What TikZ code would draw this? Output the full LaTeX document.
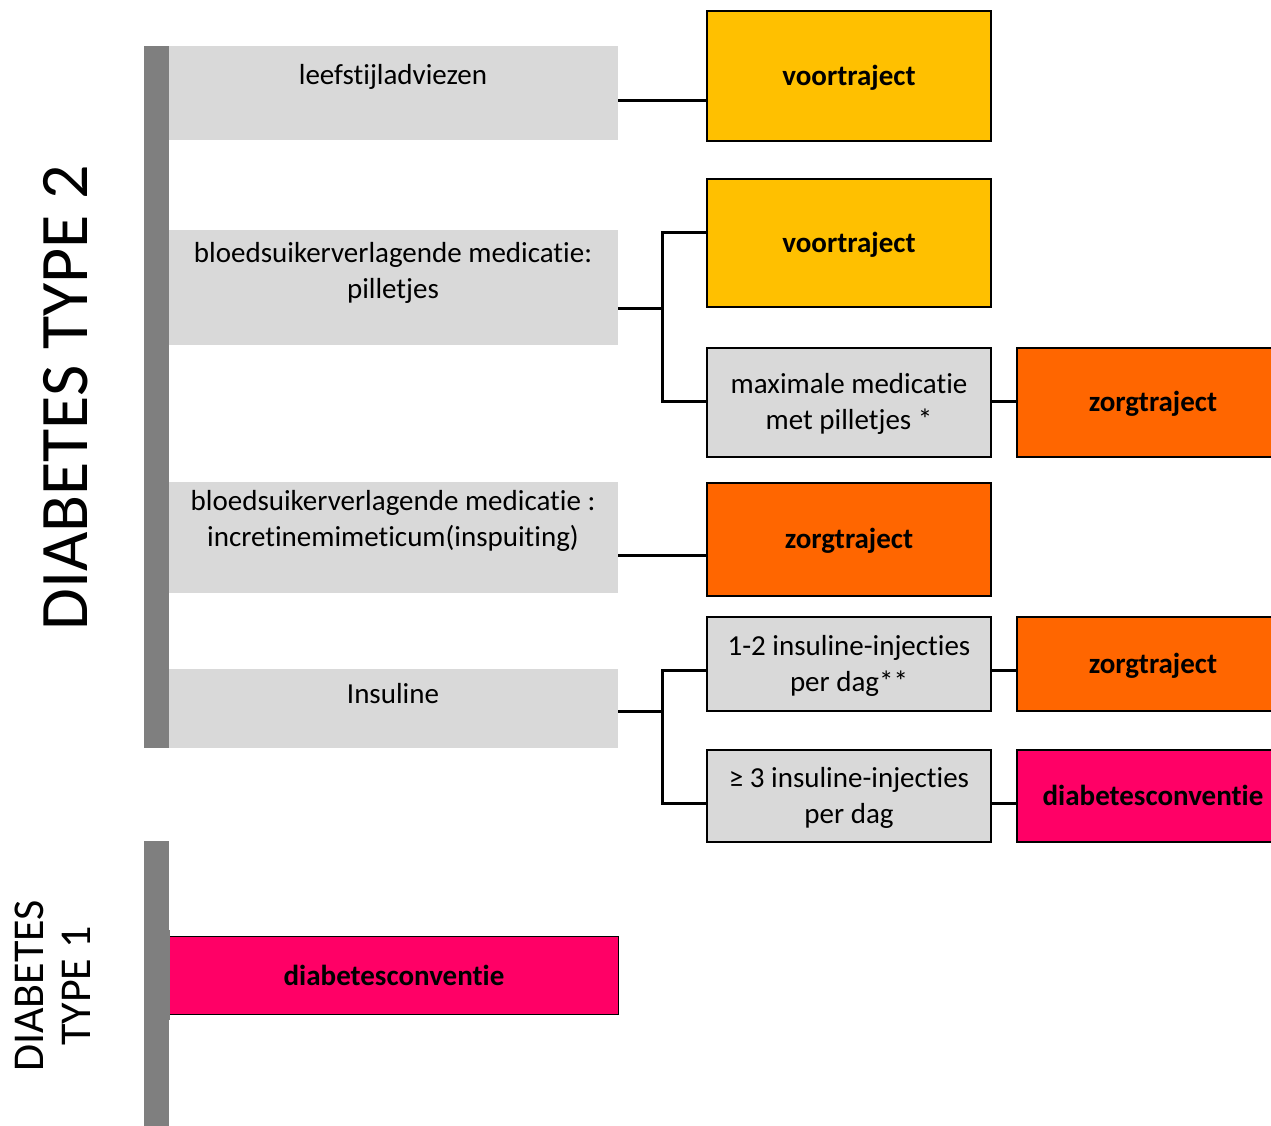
\documentclass[tikz,border=0pt]{standalone}
\usepackage{fontspec}
\setmainfont{Carlito}[Ligatures=NoCommon]
\definecolor{boxgrey}{HTML}{D9D9D9}
\definecolor{bargrey}{HTML}{7F7F7F}
\definecolor{yel}{HTML}{FFC000}
\definecolor{ora}{HTML}{FF6600}
\definecolor{pnk}{HTML}{FF0066}
\tikzset{
  base/.style={inner sep=0pt, anchor=north west, align=center, font=\fontsize{29}{36}\selectfont},
  greybox/.style={base, fill=boxgrey},
  outbox/.style={base, draw=black, line width=2pt, text depth=2pt},
  choice/.style={outbox, fill=boxgrey},
  result/.style={outbox, font=\fontsize{29}{36}\selectfont\bfseries},
  gtxt/.style={inner sep=0pt, align=center, font=\fontsize{29}{36}\selectfont},
  bar/.style={fill=bargrey, inner sep=0pt, anchor=north west},
  conn/.style={draw=black, line width=3pt},
  sidetitle/.style={inner sep=0pt, rotate=90, align=center}
}
\begin{document}
\begin{tikzpicture}[x=1pt,y=-1pt]
\useasboundingbox (0,0) rectangle (1271,1126);
\clip (0,0) rectangle (1271,1126);
\fill[white] (0,0) rectangle (1271,1126);

% grey bars
\node[bar, minimum width=25pt, minimum height=702pt] (bar2) at (144,46) {};
\node[bar, minimum width=25pt, minimum height=290pt] (bar1) at (144,841) {};

% left grey boxes
\node[greybox, minimum width=449pt, minimum height=94pt] (lsa) at (169,46) {};
\node[gtxt] (lsat) at (393,77) {leefstijladviezen};
\node[greybox, minimum width=449pt, minimum height=115pt] (pil) at (169,230) {};
\node[gtxt] (pilt) at (393,273) {bloedsuikerverlagende medicatie:\\pilletjes};
\node[greybox, minimum width=449pt, minimum height=111pt] (inc) at (169,482) {};
\node[gtxt] (inct) at (393,521) {bloedsuikerverlagende medicatie :\\incretinemimeticum(inspuiting)};
\node[greybox, minimum width=449pt, minimum height=79pt] (ins) at (169,669) {};
\node[gtxt] (inst) at (393,694) {Insuline};

% type 1 result
\node[base, fill=pnk, draw=black, line width=1pt, minimum width=449pt, minimum height=78pt, font=\fontsize{29}{36}\selectfont\bfseries] (dc2) at (169,936) {diabetesconventie};
\fill[bargrey] (144,930) rectangle (169.5,1020);

% middle column
\node[result, fill=yel, minimum width=284pt, minimum height=130pt] (vt1) at (706,10) {voortraject};
\node[result, fill=yel, minimum width=284pt, minimum height=128pt] (vt2) at (706,178) {voortraject};
\node[choice, minimum width=284pt, minimum height=109pt] (maxmed) at (706,347) {maximale medicatie\\met pilletjes *};
\node[result, fill=ora, minimum width=284pt, minimum height=113pt] (zt2) at (706,482) {zorgtraject};
\node[choice, minimum width=284pt, minimum height=94pt] (ins12) at (706,616) {1-2 insuline-injecties\\per dag**};
\node[choice, minimum width=284pt, minimum height=92pt] (ins3) at (706,749) {≥ 3 insuline-injecties\\per dag};

% right column
\node[result, fill=ora, minimum width=272pt, minimum height=109pt, text width=255pt] (zt1) at (1016,347) {zorgtraject};
\node[result, fill=ora, minimum width=272pt, minimum height=94pt, text width=255pt] (zt3) at (1016,616) {zorgtraject};
\node[result, fill=pnk, minimum width=272pt, minimum height=92pt, text width=255pt] (dc1) at (1016,749) {diabetesconventie};

% junctions
\coordinate (j1) at (662,308);
\coordinate (j2) at (662,711);

% connectors
\draw[conn] (lsa.east |- 0,101) -- (vt1.west |- 0,101);
\draw[conn] (pil.east |- j1) -- (j1);
\draw[conn] (vt2.west |- 0,232) -| (j1) |- (maxmed.west |- 0,401);
\draw[conn] (maxmed.east |- 0,401) -- (zt1.west |- 0,401);
\draw[conn] (inc.east |- 0,555) -- (zt2.west |- 0,555);
\draw[conn] (ins.east |- j2) -- (j2);
\draw[conn] (ins12.west |- 0,670) -| (j2) |- (ins3.west |- 0,803);
\draw[conn] (ins12.east |- 0,670) -- (zt3.west |- 0,670);
\draw[conn] (ins3.east |- 0,803) -- (dc1.west |- 0,803);

% side titles
\node[sidetitle, font=\fontsize{68}{80}\selectfont] (t2) at (66,398) {DIABETES TYPE 2};
\node[sidetitle, font=\fontsize{44}{47}\selectfont] (t1) at (53,986) {DIABETES\\TYPE 1};
\end{tikzpicture}
\end{document}
